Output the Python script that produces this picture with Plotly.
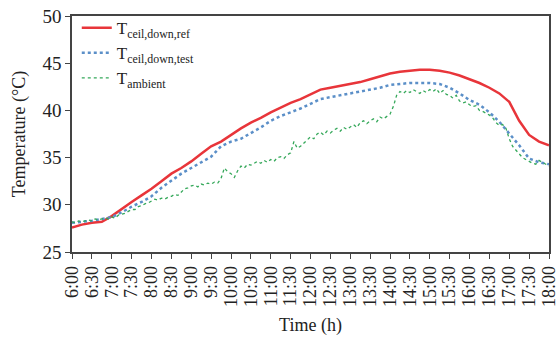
import plotly.graph_objects as go

# time axis (hours)
tick_vals = [6 + 0.5 * i for i in range(25)]
tick_text = ["6:00", "6:30", "7:00", "7:30", "8:00", "8:30", "9:00", "9:30",
             "10:00", "10:30", "11:00", "11:30", "12:00", "12:30", "13:00", "13:30",
             "14:00", "14:30", "15:00", "15:30", "16:00", "16:30", "17:00", "17:30", "18:00"]

# 15-minute series
t15 = [6 + 0.25 * i for i in range(49)]
t_ceil_ref = [27.6, 27.9, 28.1, 28.2, 28.8, 29.6, 30.3, 31.0, 31.7, 32.5, 33.3, 33.9,
              34.6, 35.4, 36.2, 36.7, 37.4, 38.1, 38.7, 39.2, 39.8, 40.3, 40.8, 41.2,
              41.7, 42.2, 42.4, 42.6, 42.8, 43.0, 43.3, 43.6, 43.9, 44.1, 44.2, 44.3,
              44.3, 44.2, 44.0, 43.7, 43.3, 42.9, 42.4, 41.8, 40.9, 38.9, 37.4, 36.7, 36.3]
t_ceil_test = [28.1, 28.2, 28.3, 28.5, 28.7, 29.2, 29.8, 30.3, 30.9, 31.8, 32.6, 33.3,
               33.9, 34.5, 35.1, 36.2, 36.7, 37.0, 37.6, 38.2, 38.9, 39.4, 39.8, 40.2,
               40.7, 41.2, 41.4, 41.6, 41.8, 42.0, 42.2, 42.4, 42.7, 42.8, 42.9, 42.9,
               42.9, 42.8, 42.4, 41.8, 41.1, 40.6, 39.8, 38.8, 37.6, 36.3, 34.9, 34.5, 34.3]

# 5-minute ambient series
t5 = [6 + i / 12 for i in range(145)]
t_ambient = [
    28.2, 28.1, 28.3, 28.2, 28.3, 28.4, 28.3, 28.5, 28.4, 28.5, 28.6, 28.5,
    28.7, 28.6, 28.9, 29.0, 29.1, 29.3, 29.5, 29.5, 29.8, 29.9, 30.1, 30.2,
    30.4, 30.6, 30.5, 30.7, 30.6, 30.8, 30.9, 31.1, 31.0, 31.4, 31.7, 31.8,
    32.0, 32.1, 31.9, 32.2, 32.1, 32.3, 32.2, 32.4, 32.3, 32.8, 33.9, 33.5,
    33.3, 32.9, 33.6, 34.1, 33.9, 34.3, 34.2, 34.4, 34.6, 34.4, 34.7, 34.5,
    34.8, 34.6, 35.0, 35.1, 34.9, 35.3, 35.5, 36.7, 36.0, 36.2, 36.5, 36.9,
    37.2, 37.0, 37.5, 37.7, 37.4, 37.8, 37.6, 37.9, 38.1, 37.8, 38.2, 38.0,
    38.3, 38.5, 38.2, 38.7, 38.9, 38.6, 38.9, 39.1, 38.8, 39.3, 39.1, 39.4,
    39.6, 40.4, 41.6, 42.0, 41.8, 42.1, 41.9, 42.2, 42.0, 41.8, 42.1, 41.9,
    42.2, 42.0, 42.3, 41.8, 42.1, 41.7, 41.6, 41.3, 41.6, 41.0, 40.8, 40.9,
    40.6, 40.4, 40.5, 40.0, 39.9, 39.7, 39.5, 39.2, 38.7, 38.4, 38.5, 38.1,
    37.0, 36.2, 35.8, 35.3, 35.0, 34.8, 34.6, 34.4, 34.3, 34.7, 34.5, 34.3,
    34.1]

FONT = "Liberation Serif"

fig = go.Figure()
fig.add_trace(go.Scatter(x=t15, y=t_ceil_ref, mode="lines",
                         name="T<sub>ceil,down,ref</sub>",
                         line=dict(color="#e8353a", width=2.5)))
fig.add_trace(go.Scatter(x=t15, y=t_ceil_test, mode="lines",
                         name="T<sub>ceil,down,test</sub>",
                         line=dict(color="#5b8fc8", width=2.5, dash="dot")))
fig.add_trace(go.Scatter(x=t5, y=t_ambient, mode="lines",
                         name="T<sub>ambient</sub>",
                         line=dict(color="#35a85a", width=1.3, dash="dot")))

fig.update_layout(
    width=558, height=347,
    margin=dict(l=72, r=9, t=16, b=95),
    paper_bgcolor="white", plot_bgcolor="white",
    font=dict(family=FONT, size=17, color="#222"),
    showlegend=True,
    legend=dict(x=0.01, y=1.025, xanchor="left", yanchor="top",
                bgcolor="rgba(0,0,0,0)", font=dict(family=FONT, size=17, color="#222"),
                tracegroupgap=0),
    xaxis=dict(range=[6, 18], tickmode="array", tickvals=tick_vals,
               ticktext=tick_text, tickangle=-90, ticklabeloverflow="allow",
               showgrid=False, zeroline=False, showline=True, linecolor="#444",
               linewidth=1.5, mirror=True, ticks="outside", ticklen=5, tickcolor="#444",
               tickfont=dict(family=FONT, size=18, color="#222"),
               title=dict(text="Time (h)", font=dict(family=FONT, size=18, color="#222"),
                          standoff=12),
               automargin=False),
    yaxis=dict(range=[25, 50], dtick=5, tick0=25,
               showgrid=False, zeroline=False, showline=True, linecolor="#444",
               linewidth=1.5, mirror=True, ticks="outside", ticklen=5, tickcolor="#444",
               tickfont=dict(family=FONT, size=19, color="#222"),
               title=dict(text="Temperature (°C)", font=dict(family=FONT, size=18, color="#222"),
                          standoff=12),
               automargin=False),
)

fig.write_html("out.html")
